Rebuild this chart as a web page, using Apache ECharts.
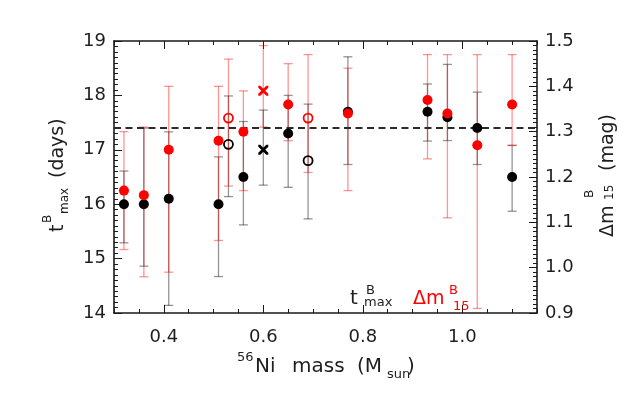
<!DOCTYPE html>
<html>
<head>
<meta charset="utf-8">
<script src="https://cdn.jsdelivr.net/npm/echarts@6/dist/echarts.min.js"></script>
<style>
html,body{margin:0;padding:0;background:#fff;}
#chart{width:628px;height:397px;}
</style>
</head>
<body>
<div id="chart"></div>
<script>
// ---- data ----
const niMass   = [0.32, 0.36, 0.41, 0.51, 0.53, 0.56, 0.60, 0.65, 0.69, 0.77, 0.93, 0.97, 1.03, 1.10];
const markerType = ['filled','filled','filled','filled','open','filled','cross','filled','open','filled','filled','filled','filled','filled'];
// t^B_max (days)
const tBmax    = [16.0, 16.0, 16.1, 16.0, 17.1, 16.5, 17.0, 17.3, 16.8, 17.7, 17.7, 17.6, 17.4, 16.5];
const tBmaxLo  = [15.29, 14.86, 14.14, 14.67, 16.14, 15.62, 16.35, 16.31, 15.73, 16.73, 17.16, 17.17, 16.73, 15.87];
const tBmaxHi  = [16.61, 17.40, 17.33, 16.87, 17.99, 17.52, 17.73, 18.00, 17.84, 18.71, 18.21, 18.57, 18.06, 17.08];
// Delta m^B_15 (mag)
const dm15     = [1.17, 1.16, 1.26, 1.28, 1.33, 1.30, 1.39, 1.36, 1.33, 1.34, 1.37, 1.34, 1.27, 1.36];
const dm15Lo   = [1.04, 0.98, 0.99, 1.06, 1.18, 1.17, 1.31, 1.28, 1.21, 1.17, 1.24, 1.11, 0.91, 1.27];
const dm15Hi   = [1.30, 1.31, 1.40, 1.40, 1.46, 1.39, 1.49, 1.45, 1.47, 1.44, 1.47, 1.47, 1.47, 1.47];
const refTBmax = 17.4;
// ticks
const xMajorTicks = [0.4, 0.6, 0.8, 1.0];
const xMinorTicks = [0.3,0.35,0.4,0.45,0.5,0.55,0.6,0.65,0.7,0.75,0.8,0.85,0.9,0.95,1.0,1.05,1.1,1.15];
const xRange = [0.3, 1.15];
const yLeftRange = [14, 19];
const yRightRange = [0.9, 1.5];

// ---- styling ----
const FONT = '"DejaVu Sans", "Liberation Sans", sans-serif';
const TXT = '#1e1e1e';
const RED = '#ff0000';
const AXC = '#1a1a1a';

function errRender(color) {
  return function (params, api) {
    const x = api.value(0), lo = api.value(1), hi = api.value(2);
    const a = api.coord([x, lo]), b = api.coord([x, hi]);
    const w = 4.5;
    const st = {stroke: color, lineWidth: 1.3, fill: null};
    return {type: 'group', children: [
      {type: 'line', shape: {x1: a[0], y1: a[1], x2: b[0], y2: b[1]}, style: st},
      {type: 'line', shape: {x1: a[0]-w, y1: a[1], x2: a[0]+w, y2: a[1]}, style: st},
      {type: 'line', shape: {x1: b[0]-w, y1: b[1], x2: b[0]+w, y2: b[1]}, style: st}
    ]};
  };
}
const crossPath = 'path://M0,0 L2,0 L5,3 L8,0 L10,0 L10,2 L7,5 L10,8 L10,10 L8,10 L5,7 L2,10 L0,10 L0,8 L3,5 L0,2 Z';
function markerItems(xs, ys, color) {
  return xs.map((x, i) => {
    const t = markerType[i];
    if (t === 'open') return {value: [x, ys[i]], symbol: 'circle', symbolSize: 9,
      itemStyle: {color: 'rgba(255,255,255,0)', borderColor: color, borderWidth: 1.8, opacity: 1}};
    if (t === 'cross') return {value: [x, ys[i]], symbol: crossPath, symbolSize: 10,
      itemStyle: {color: color, borderWidth: 0, opacity: 1}};
    return {value: [x, ys[i]], symbol: 'circle', symbolSize: 10, itemStyle: {color: color, borderWidth: 0, opacity: 1}};
  });
}

function htext(txt, x, baseline, size, color) {
  return {type: 'text', x: x, y: baseline - 0.3*size, style: {text: txt, fill: color, font: size + 'px ' + FONT, align: 'left', verticalAlign: 'middle'}, z: 100};
}
function rtext(txt, baselineX, startY, size, color) {
  return {type: 'text', x: baselineX - 0.3*size, y: startY, rotation: Math.PI/2,
    style: {text: txt, fill: color, font: size + 'px ' + FONT, align: 'left', verticalAlign: 'middle'}, z: 100};
}

const baseAxisLine = {show: true, lineStyle: {color: AXC, width: 1.6}};
const labelStyle = {fontFamily: FONT, fontSize: 18, color: TXT};

const option = {
  animation: false,
  backgroundColor: '#fff',
  grid: {left: 114, right: 91, top: 41, bottom: 84, containLabel: false},
  xAxis: [
    {type: 'value', min: xRange[0], max: xRange[1], position: 'bottom', axisLine: baseAxisLine,
     axisTick: {show: true, inside: true, length: 8, customValues: xMajorTicks, lineStyle: {color: AXC, width: 1}},
     axisLabel: {show: true, customValues: xMajorTicks, formatter: v => v.toFixed(1), margin: 15, ...labelStyle},
     splitLine: {show: false}},
    {type: 'value', min: xRange[0], max: xRange[1], position: 'bottom', axisLine: {show: false},
     axisTick: {show: true, inside: true, length: 4, customValues: xMinorTicks, lineStyle: {color: AXC, width: 1}},
     axisLabel: {show: false}, splitLine: {show: false}},
    {type: 'value', min: xRange[0], max: xRange[1], position: 'top', axisLine: baseAxisLine,
     axisTick: {show: true, inside: true, length: 8, customValues: xMajorTicks, lineStyle: {color: AXC, width: 1}},
     axisLabel: {show: false}, splitLine: {show: false}},
    {type: 'value', min: xRange[0], max: xRange[1], position: 'top', axisLine: {show: false},
     axisTick: {show: true, inside: true, length: 4, customValues: xMinorTicks, lineStyle: {color: AXC, width: 1}},
     axisLabel: {show: false}, splitLine: {show: false}}
  ],
  yAxis: [
    {type: 'value', min: yLeftRange[0], max: yLeftRange[1], interval: 1, position: 'left', axisLine: baseAxisLine,
     axisTick: {show: true, inside: true, length: 8, lineStyle: {color: AXC, width: 1}},
     minorTick: {show: true, splitNumber: 10, length: 4, lineStyle: {color: AXC, width: 1}},
     axisLabel: {margin: 8, ...labelStyle}, splitLine: {show: false}},
    {type: 'value', min: yRightRange[0], max: yRightRange[1], interval: 0.1, position: 'right', axisLine: baseAxisLine,
     axisTick: {show: true, inside: true, length: 8, lineStyle: {color: AXC, width: 1}},
     minorTick: {show: true, splitNumber: 10, length: 4, lineStyle: {color: AXC, width: 1}},
     axisLabel: {margin: 8, formatter: v => v.toFixed(1), ...labelStyle}, splitLine: {show: false}}
  ],
  series: [
    {type: 'custom', name: 'tErr', xAxisIndex: 0, yAxisIndex: 0, z: 2,
     renderItem: errRender('rgba(0,0,0,0.42)'), encode: {x: 0, y: [1, 2]},
     data: niMass.map((x, i) => [x, tBmaxLo[i], tBmaxHi[i]])},
    {type: 'custom', name: 'dmErr', xAxisIndex: 0, yAxisIndex: 1, z: 3,
     renderItem: errRender('rgba(255,0,0,0.42)'), encode: {x: 0, y: [1, 2]},
     data: niMass.map((x, i) => [x, dm15Lo[i], dm15Hi[i]])},
    {type: 'line', name: 'ref', xAxisIndex: 0, yAxisIndex: 0, z: 4, data: [], silent: true,
     markLine: {silent: true, symbol: ['none', 'none'], label: {show: false},
       lineStyle: {type: [7, 4.5], color: '#2a2a2a', width: 2},
       data: [{yAxis: refTBmax}]}},
    {type: 'scatter', name: 'tB', xAxisIndex: 0, yAxisIndex: 0, z: 5, itemStyle: {opacity: 1},
     data: markerItems(niMass, tBmax, '#000000')},
    {type: 'scatter', name: 'dm', xAxisIndex: 0, yAxisIndex: 1, z: 6, itemStyle: {opacity: 1},
     data: markerItems(niMass, dm15, RED)}
  ],
  graphic: [
    // x-axis title
    htext('56', 237, 362, 13, TXT),
    htext('Ni', 255, 373, 20, TXT),
    htext('mass', 292, 373, 20, TXT),
    htext('(M', 357, 373, 20, TXT),
    htext('sun', 387, 379, 13, TXT),
    htext(')', 407, 373, 20, TXT),
    // left title
    rtext('t', 64, 232, 19, TXT),
    rtext('B', 51, 223, 12, TXT),
    rtext('max', 68, 214, 12, TXT),
    rtext('(days)', 64, 178, 19, TXT),
    // right title
    rtext('\u0394m', 614, 237, 19, TXT),
    rtext('B', 593, 198, 12, TXT),
    rtext('15', 613, 200, 12, TXT),
    rtext('(mag)', 614, 171, 19, TXT),
    // in-plot legend
    htext('t', 350, 305, 20, TXT),
    htext('B', 366, 295, 13, TXT),
    htext('max', 364, 307, 13, TXT),
    htext('\u0394m', 413, 305, 19, RED),
    htext('B', 449, 295, 13, RED),
    htext('15', 453, 311, 13, RED)
  ]
};
const chart = echarts.init(document.getElementById('chart'), null, {renderer: 'canvas'});
chart.setOption(option);
</script>
</body>
</html>
